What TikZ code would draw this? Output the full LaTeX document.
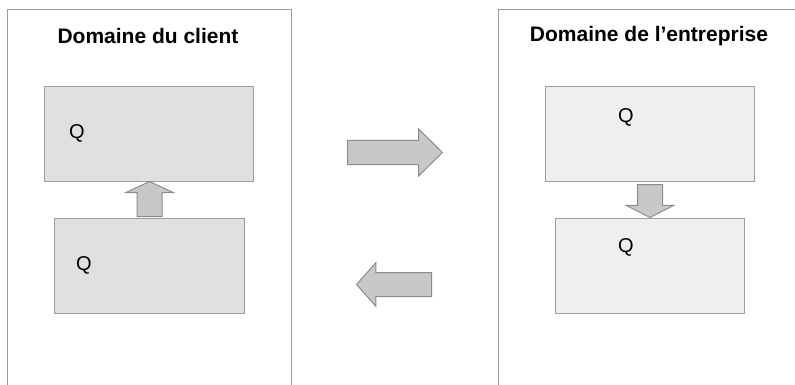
\documentclass[tikz,border=0pt]{standalone}
\usepackage{fontspec}
\setmainfont{Liberation Sans}
\usetikzlibrary{shapes.arrows, positioning, calc}
\definecolor{framegray}{HTML}{9A9A9A}
\definecolor{boxline}{HTML}{9E9E9E}
\definecolor{clientfill}{HTML}{E0E0E0}
\definecolor{firmfill}{HTML}{EFEFEF}
\definecolor{arrowfill}{HTML}{C8C8C8}
\definecolor{arrowline}{HTML}{8C8C8C}
\tikzset{
    panel/.style={
        draw=framegray,
        line width=1pt
    },
    domtitle/.style={
        font=\fontsize{21}{24}\selectfont\bfseries,
        inner sep=0pt
    },
    clientbox/.style={
        rectangle,
        draw=boxline,
        line width=1pt,
        fill=clientfill,
        minimum width=209pt,
        minimum height=95pt,
        inner sep=0pt
    },
    firmbox/.style={
        clientbox,
        fill=firmfill
    },
    qlabel/.style={
        font=\fontsize{20}{23}\selectfont,
        inner sep=0pt
    },
    blockarrow/.style={
        single arrow,
        draw=arrowline,
        line width=1pt,
        fill=arrowfill,
        inner xsep=0pt,
        inner ysep=12pt,
        minimum width=0pt,
        single arrow head extend=11.5pt
    }
}
\begin{document}
\begin{tikzpicture}[x=1pt, y=-1pt]

\useasboundingbox (0,0) rectangle (795,385);

% the two domains
\draw[panel] (7,385) |- (291,10) -- (291,385);
\draw[panel] (498,385) |- (795,10);

\node[domtitle] (tclient) at (148,36) {Domaine du client};
\node[domtitle] (tfirm) at (649,36) {Domaine de l’entreprise};

\node[clientbox, anchor=north west] (ctop) at (44,86) {};
\node[clientbox, anchor=north west, minimum width=190pt] (cbot) at (54,218) {};
\node[firmbox, anchor=north west] (ftop) at (545,86) {};
\node[firmbox, anchor=north west, minimum width=189pt] (fbot) at (555,218) {};

\node[qlabel] (qctop) at ($(ctop.north west)+(33,47)$) {Q};
\node[qlabel] (qcbot) at ($(cbot.north west)+(30,47)$) {Q};
\node[qlabel] (qftop) at ($(ftop.north west)+(81,31)$) {Q};
\node[qlabel] (qfbot) at ($(fbot.north west)+(71,29)$) {Q};

% arrows inside the domains
\node[blockarrow, rotate=90, anchor=tail, minimum height=35pt,
      single arrow tip angle=130] (up) at ($(cbot.north)+(0,-1)$) {};
\node[blockarrow, rotate=-90, anchor=tail, minimum height=33pt,
      single arrow tip angle=126] (down) at ($(ftop.south)+(0,2)$) {};

% arrows between the domains
\node[blockarrow, anchor=tail, minimum height=95pt, inner ysep=11.5pt,
      single arrow tip angle=89] (toward) at (347,152.5) {};
\node[blockarrow, rotate=180, anchor=tail, minimum height=75pt, inner ysep=11.5pt,
      single arrow head extend=10pt, single arrow tip angle=97] (back) at (432,284.5) {};

\end{tikzpicture}
\end{document}
